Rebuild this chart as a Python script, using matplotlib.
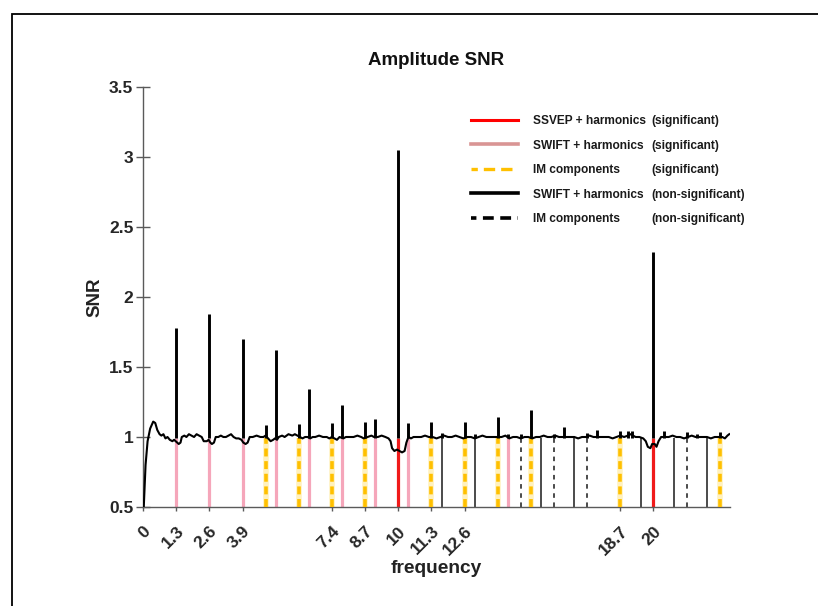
import matplotlib
matplotlib.use("Agg")
import matplotlib.pyplot as plt
from matplotlib.lines import Line2D
from matplotlib.patches import Rectangle

plt.rcParams['font.family'] = ['Liberation Sans', 'DejaVu Sans']
plt.rcParams['font.weight'] = 'bold'

# ---- data -------------------------------------------------------------
base_freq = [0.03, 0.10, 0.18, 0.28, 0.40, 0.48, 0.56, 0.65, 0.72, 0.80, 0.88, 0.96,
             1.05, 1.15, 1.22, 1.28, 1.34, 1.40, 1.47, 1.52, 1.62, 1.70, 1.80, 1.90,
             2.00, 2.10, 2.20, 2.30, 2.38, 2.50, 2.57, 2.64, 2.70, 2.78, 2.85, 2.95,
             3.05, 3.15, 3.25, 3.35, 3.45, 3.55, 3.65, 3.75, 3.86, 3.93, 4.02, 4.10,
             4.18, 4.30, 4.45, 4.60, 4.72, 4.80, 4.90, 5.00, 5.10, 5.17, 5.25, 5.32,
             5.45, 5.55, 5.70, 5.85, 5.95, 6.05, 6.15, 6.25, 6.35, 6.45, 6.55, 6.65,
             6.75, 6.90, 7.05, 7.20, 7.30, 7.40, 7.50, 7.60, 7.70, 7.85, 7.95, 8.10,
             8.25, 8.40, 8.55, 8.65, 8.80, 8.95, 9.05, 9.20, 9.35, 9.50, 9.62, 9.70,
             9.76, 9.85, 9.95, 10.05, 10.15, 10.25, 10.32, 10.40, 10.50, 10.60, 10.75,
             10.90, 11.05, 11.20, 11.35, 11.50, 11.65, 11.80, 11.95, 12.10, 12.25,
             12.40, 12.55, 12.70, 12.85, 13.00, 13.15, 13.30, 13.45, 13.60, 13.75,
             13.90, 14.05, 14.20, 14.35, 14.50, 14.65, 14.80, 14.95, 15.10, 15.25,
             15.40, 15.55, 15.70, 15.85, 16.00, 16.15, 16.30, 16.45, 16.60, 16.75,
             16.90, 17.05, 17.20, 17.35, 17.50, 17.65, 17.80, 17.95, 18.10, 18.25,
             18.40, 18.55, 18.70, 18.85, 19.00, 19.10, 19.20, 19.30, 19.45, 19.60,
             19.70, 19.78, 19.88, 19.95, 20.05, 20.12, 20.20, 20.30, 20.45, 20.60,
             20.75, 20.90, 21.05, 21.20, 21.35, 21.50, 21.65, 21.80, 21.95, 22.10,
             22.25, 22.40, 22.55, 22.70, 22.80, 22.90, 22.97]
base_snr = [0.50, 0.80, 0.97, 1.06, 1.11, 1.10, 1.05, 1.02, 1.01, 1.02, 0.99, 1.00,
            0.98, 0.97, 0.98, 0.97, 0.96, 0.95, 0.96, 1.00, 1.01, 1.00, 1.02, 1.01,
            1.00, 1.02, 1.01, 1.00, 0.97, 0.97, 0.98, 0.96, 0.95, 0.96, 1.00, 1.00,
            1.01, 1.00, 1.00, 1.01, 1.02, 1.00, 0.99, 0.99, 0.98, 0.96, 0.95, 0.96,
            1.00, 1.00, 1.01, 1.00, 1.00, 1.01, 0.99, 0.97, 0.98, 0.99, 0.98, 1.00,
            1.01, 1.00, 1.02, 1.01, 1.02, 1.01, 1.00, 0.99, 1.00, 1.00, 0.99, 1.00,
            1.00, 1.01, 1.00, 1.00, 0.99, 1.00, 0.99, 0.98, 1.00, 0.99, 1.00, 1.00,
            1.00, 1.01, 1.00, 0.99, 1.00, 1.01, 1.00, 1.00, 1.01, 1.00, 0.99, 0.97,
            0.92, 0.90, 0.91, 0.90, 0.89, 0.90, 0.96, 1.00, 0.99, 1.00, 1.00,
            1.00, 1.01, 1.00, 1.00, 0.99, 1.00, 1.01, 1.00, 1.00, 1.01,
            1.00, 0.99, 1.00, 1.00, 0.99, 1.00, 1.01, 1.00, 1.00, 1.00,
            1.00, 1.00, 1.01, 0.99, 1.00, 1.00, 0.99, 1.00, 1.00, 0.99,
            1.00, 1.00, 1.01, 1.00, 1.00, 1.01, 1.00, 1.00, 1.00, 1.00,
            1.00, 0.99, 1.00, 1.00, 1.01, 1.00, 1.00, 1.00, 1.00, 1.00,
            0.99, 1.00, 1.01, 1.00, 1.01, 1.02, 1.01, 1.00, 1.00, 0.99,
            0.97, 0.93, 0.92, 0.95, 0.95, 0.93, 0.97, 1.00, 1.00, 1.00,
            1.01, 1.00, 1.00, 0.99, 1.00, 1.01, 1.00, 1.00, 1.00, 1.00,
            0.99, 1.00, 1.00, 1.00, 0.99, 1.01, 1.02]

peak_freq = [1.3, 2.6, 3.9, 4.8, 5.2, 6.1, 6.5, 7.4, 7.8, 8.7, 9.1, 10.0, 10.4,
             11.3, 11.7, 12.6, 13.0, 13.9, 14.3, 14.8, 15.2, 16.1, 16.5, 17.4, 17.8,
             18.7, 19.0, 19.15, 20.0, 20.4, 21.3, 21.7, 22.6]
peak_snr = [1.78, 1.88, 1.70, 1.085, 1.62, 1.09, 1.34, 1.10, 1.23, 1.105, 1.13, 3.05,
            1.10, 1.105, 1.03, 1.11, 1.02, 1.14, 1.02, 1.025, 1.19, 1.02, 1.075, 1.03,
            1.05, 1.04, 1.045, 1.045, 2.32, 1.04, 1.035, 1.02, 1.035]

ssvep_sig = [10.0, 20.0]
swift_sig = [1.3, 2.6, 3.9, 5.2, 6.5, 7.8, 9.1, 10.4, 14.3]
im_sig = [4.8, 6.1, 7.4, 8.7, 11.3, 12.6, 13.9, 15.2, 18.7, 22.6]
swift_nonsig = [11.7, 13.0, 15.6, 16.9, 19.5, 20.8, 22.1]
im_nonsig = [14.8, 16.1, 17.4, 21.3]

xtick_vals = [0, 1.3, 2.6, 3.9, 7.4, 8.7, 10, 11.3, 12.6, 18.7, 20]
xtick_labels = ['0', '1.3', '2.6', '3.9', '7.4', '8.7', '10', '11.3', '12.6', '18.7', '20']
ytick_vals = [0.5, 1, 1.5, 2, 2.5, 3, 3.5]
ytick_labels = ['0.5', '1', '1.5', '2', '2.5', '3', '3.5']

legend_names = ['SSVEP + harmonics', 'SWIFT + harmonics', 'IM components',
                'SWIFT + harmonics', 'IM components']
legend_status = ['(significant)', '(significant)', '(significant)',
                 '(non-significant)', '(non-significant)']

# ---- figure -----------------------------------------------------------
W, H = 818, 606
fig = plt.figure(figsize=(W / 100, H / 100), dpi=100)
ax = fig.add_axes([143 / W, 99 / H, (730 - 143) / W, 420 / H])

RED = '#F01A1A'
PINK = '#F5A6BA'
PINK_LEG = '#D99594'
GOLD = '#FFC000'
PALE = '#FFF1BE'
DARK = '#1A1A1A'

top_line = 0.995
# marker lines
ax.vlines(swift_sig, 0.5, top_line, colors=PINK, lw=2.3, zorder=2)
ax.vlines(ssvep_sig, 0.5, top_line, colors=RED, lw=2.3, zorder=2)
ax.vlines(swift_nonsig, 0.5, top_line, colors=DARK, lw=1.1, zorder=2)
ax.vlines(im_nonsig, 0.5, top_line, colors=DARK, lw=1.1,
          linestyles=[(0, (3.0, 3.0))], zorder=2)
ax.vlines(im_sig, 0.5, top_line, colors=PALE, lw=4.0, zorder=2)
ax.vlines(im_sig, 0.5, top_line, colors=GOLD, lw=2.6,
          linestyles=[(0, (2.2, 1.3))], zorder=3)

# spectrum
ax.plot(base_freq, base_snr, color='black', lw=1.5, zorder=4)
ax.vlines(peak_freq, 0.99, peak_snr, colors='black', lw=2.1, zorder=4)

ax.set_xlim(0, 23)
ax.set_ylim(0.5, 3.5)
for s in ['top', 'right']:
    ax.spines[s].set_visible(False)
for s in ['left', 'bottom']:
    ax.spines[s].set_color('#5a5a5a')
    ax.spines[s].set_linewidth(1.0)

ax.set_yticks(ytick_vals)
ax.set_yticklabels(ytick_labels, fontsize=12.5, fontweight='bold', color='#262626')
ax.tick_params(axis='y', direction='inout', length=10, width=1.0, color='#5a5a5a', pad=2)
ax.set_xticks(xtick_vals)
ax.set_xticklabels(xtick_labels, fontsize=12.5, fontweight='bold', color='#262626',
                   rotation=45, ha='right', va='top', rotation_mode='anchor')
ax.tick_params(axis='x', direction='out', length=3, width=1.0, color='#5a5a5a', pad=9)

ax.set_title('Amplitude SNR', fontsize=13.5, fontweight='bold', pad=16, color='#111111')
ax.set_ylabel('SNR', fontsize=13.5, fontweight='bold', labelpad=4, color='#222222')
ax.set_xlabel('frequency', fontsize=13.8, fontweight='bold', labelpad=1, color='#222222')

# legend
handles = [
    Line2D([], [], color='#FF0000', lw=2.2),
    Line2D([], [], color=PINK_LEG, lw=2.6),
    Line2D([], [], color=GOLD, lw=2.4, linestyle=(1.5, (3.4, 1.8))),
    Line2D([], [], color='black', lw=2.6),
    Line2D([], [], color='black', lw=2.6, linestyle=(1.5, (3.0, 1.8))),
]
leg = ax.legend(handles, legend_names, loc='upper left',
                bbox_to_anchor=(471 / W, 1 - 115 / H), bbox_transform=fig.transFigure,
                frameon=False, borderpad=0, borderaxespad=0, handlelength=3.9,
                handletextpad=1.3, labelspacing=1.05,
                prop={'family': ['Liberation Sans'], 'weight': 'bold', 'size': 8.6})
for t in leg.get_texts():
    t.set_color('#1a1a1a')

fig.canvas.draw()
for t, s in zip(leg.get_texts(), legend_status):
    bb = t.get_window_extent()
    fig.text(651 / W, (bb.y0 + bb.y1) / 2 / H, s, va='center', ha='left',
             fontsize=8.6, fontweight='bold', color='#1a1a1a')

# outer frame (partially cropped)
fig.patches.append(Rectangle((12 / W, -0.2), 1.5, 1.2 - 14 / H, transform=fig.transFigure,
                             fill=False, edgecolor='black', lw=1.3, clip_on=False))

fig.savefig('out.png', dpi=100)
